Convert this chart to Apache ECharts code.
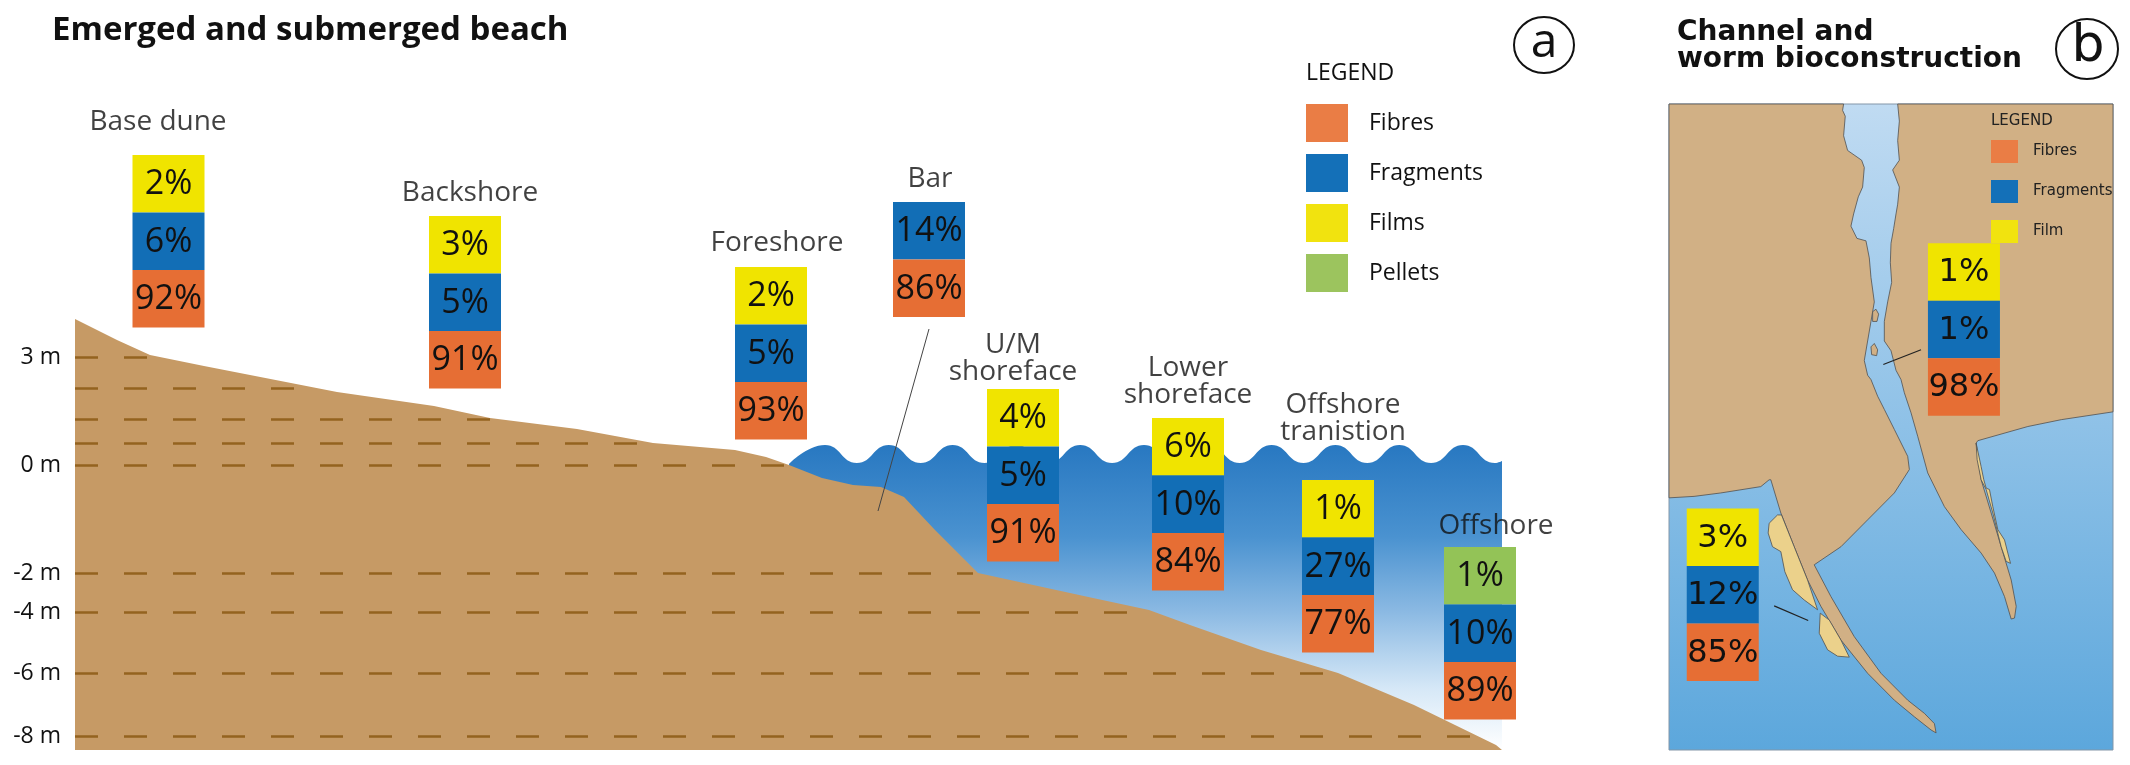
<!DOCTYPE html>
<html>
<head>
<meta charset="utf-8">
<script src="https://cdn.jsdelivr.net/npm/echarts@6/dist/echarts.min.js"></script>
<style>
  html, body { margin: 0; padding: 0; background: #fff; }
  #chart { width: 2130px; height: 765px; }
</style>
</head>
<body>
<div id="chart"></div>
<script>
// (a) emerged and submerged beach: share of each microplastic type per zone (%)
const zones = ['Base dune', 'Backshore', 'Foreshore', 'Bar', 'U/M\nshoreface', 'Lower\nshoreface', 'Offshore\ntranistion', 'Offshore'];
const fibres = [92, 91, 93, 86, 91, 84, 77, 89];
const fragments = [6, 5, 5, 14, 5, 10, 27, 10];
const films = [2, 3, 2, null, 4, 6, 1, null];
const pellets = [null, null, null, null, null, null, null, 1];

// (b) channel and worm bioconstruction (%)
const sites = ['Channel', 'Worm bioconstruction'];
const fibresB = [98, 85];
const fragmentsB = [1, 12];
const filmB = [1, 3];

// depth ticks of the schematic profile
const depthTicks = ['3 m', '0 m', '-2 m', '-4 m', '-6 m', '-8 m'];

// ---- layout of the schematic (drawing units, not data) ----
const depthLevel = [78.6, 57, 35.4, 27.6, 15.4, 2.8];
const extraLevel = [72.4, 66.2, 61.4];
const profile = [[0, 86.2], [8.4, 82], [15, 79], [25.8, 76.8], [52.4, 71.6], [71.8, 68.8], [83, 66.4],
  [100.4, 64.2], [115.6, 61.4], [132, 60], [138.2, 58.6], [142.8, 57], [149.4, 54.4], [155.6, 53],
  [161.2, 52.6], [165.8, 50.6], [172, 44], [180.6, 35.4], [203.6, 30.4], [214.8, 28], [223, 25],
  [237.2, 20], [252.6, 15.4], [267.8, 9], [284.2, 1], [285.4, 0]];
const boxX = [18.7, 78, 139.2, 170.8, 189.6, 222.6, 252.6, 281];
const boxTop = [119, 106.8, 96.6, 109.6, 72.2, 66.4, 54, 40.6];
const labelAt = [[16.6, 125.6], [79, 111.4], [140.4, 101.4], [171, 114.2], [187.6, 78.3], [222.6, 73.7], [253.6, 66.3], [284.2, 44.8]];
const boxXB = [938.5, 216];
const boxTopB = [500, 1043];

// map outlines for panel (b), in map units
const leftLand = [[55,215],[578,215],[575,228],[583,240],[578,280],[590,310],[632,330],[640,345],[635,385],[622,405],[608,440],[600,465],[618,490],[645,495],[655,530],[660,570],[670,620],[660,660],[650,700],[640,740],[650,770],[660,779],[680,813],[700,840],[730,881],[770,936],[775,963],[730,1011],[650,1066],[570,1121],[490,1158],[540,1223],[610,1305],[690,1380],[770,1435],[820,1462],[850,1483],[855,1502],[840,1496],[790,1469],[730,1435],[650,1380],[570,1312],[510,1243],[470,1189],[430,1121],[390,1052],[360,984],[355,984],[330,998],[210,1011],[130,1018],[55,1021]];
const rightLand = [[740,215],[1385,215],[1385,845],[1230,861],[1130,875],[980,904],[975,909],[990,984],[1020,1052],[1050,1121],[1080,1189],[1095,1243],[1090,1267],[1080,1269],[1060,1223],[1030,1175],[990,1134],[930,1086],[880,1039],[830,970],[800,895],[780,847],[760,806],[750,779],[735,760],[720,720],[700,700],[700,660],[710,620],[722,580],[718,540],[720,500],[728,470],[735,440],[740,420],[745,385],[725,350],[745,330],[740,290],[745,250]];
const islands = [[[665,640],[675,635],[683,645],[678,660],[665,660]], [[660,712],[670,705],[680,718],[677,730],[662,728]]];
const wormLeft = [[[380,1056],[355,1073],[352,1093],[365,1121],[390,1131],[402,1172],[425,1209],[460,1230],[500,1250],[470,1189],[430,1121],[392,1056]],
  [[508,1257],[505,1298],[530,1332],[560,1345],[595,1347],[570,1312],[535,1271]]];
const wormRight = [[975,909],[990,957],[998,984],[1005,1001],[1015,1004],[1025,1039],[1040,1086],[1060,1107],[1070,1134],[1078,1155],[1065,1151],[1050,1121],[1025,1052],[1005,1004],[990,984],[978,943]];

const CELL_W = 72, CELL_H = 57.5;
const COLORS = { fibres: '#e66e34', fragments: '#126eb6', films: '#f0e400', pellets: '#93c357' };
const SAND = '#c69a65', LAND = '#d1b085', WORM = '#ebd18b';
const INK = '#111';

// where a depth line meets the sand surface
function shoreAt(level) {
  for (let i = 1; i < profile.length; i++) {
    const [x0, y0] = profile[i - 1], [x1, y1] = profile[i];
    if (y0 >= level && y1 <= level) return x0 + (x1 - x0) * (y0 - level) / (y0 - y1);
  }
  return profile[profile.length - 1][0];
}

// wave crests on the water surface
const wave = [[142.8, 57.2]];
for (let k = 0; 150 + k * 12.76 < 285; k++) {
  wave.push([150 + k * 12.76, 61]);
  if (156.38 + k * 12.76 < 285) wave.push([156.38 + k * 12.76, 57.4]);
}
wave.push([285.4, 57.8]);

// stacked cell slots, counted from the top
function slotsOf(top, mid) {
  return top.map((t, i) => (t == null ? 0 : 1) + (mid[i] == null ? 0 : 1));
}

function cellSeries(name, values, slots, xs, tops, color, gi, font) {
  return {
    type: 'custom', name, xAxisIndex: gi, yAxisIndex: gi, z: 6,
    itemStyle: { color },
    data: values.map((v, i) => (v == null ? null : [xs[i], tops[i], v, slots[i]])).filter(Boolean),
    renderItem(params, api) {
      const p = api.coord([api.value(0), api.value(1)]);
      const y = p[1] + api.value(3) * CELL_H;
      return {
        type: 'group',
        children: [
          { type: 'rect', shape: { x: p[0] - CELL_W / 2, y, width: CELL_W, height: CELL_H }, style: { fill: color } },
          { type: 'text', x: p[0], y: y + CELL_H / 2 + 1,
            style: { text: api.value(2) + '%', fill: INK, font, align: 'center', verticalAlign: 'middle' } }
        ]
      };
    }
  };
}

const topA = films.map((f, i) => f != null ? f : pellets[i]);
const zeroSlots = zones.map(() => 0);
const fragSlots = topA.map(t => (t == null ? 0 : 1));
const fibreSlots = slotsOf(topA, fragments);
const fontA = '34px "Open Sans"';
const fontB = '32px "DejaVu Sans"';

const mapShapes = [
  { pts: leftLand, fill: LAND }, { pts: rightLand, fill: LAND },
  { pts: islands[0], fill: LAND }, { pts: islands[1], fill: LAND },
  { pts: wormLeft[0], fill: WORM }, { pts: wormLeft[1], fill: WORM }, { pts: wormRight, fill: WORM }
];

const chart = echarts.init(document.getElementById('chart'));
chart.setOption({
  backgroundColor: '#fff',
  animation: false,
  title: [
    { text: 'Emerged and submerged beach', left: 52, top: 14, padding: 0,
      textStyle: { fontFamily: 'Open Sans', fontWeight: 'bold', fontSize: 33, color: INK } },
    { text: 'LEGEND', left: 1306, top: 62, padding: 0,
      textStyle: { fontFamily: 'Open Sans', fontWeight: 'normal', fontSize: 23, color: INK } },
    { text: 'Channel and\nworm bioconstruction', left: 1677, top: 19, padding: 0,
      textStyle: { fontFamily: 'DejaVu Sans', fontWeight: 'bold', fontSize: 28, lineHeight: 27, color: INK } },
    { text: 'LEGEND', left: 1991, top: 114, padding: 0,
      textStyle: { fontFamily: 'DejaVu Sans', fontWeight: 'normal', fontSize: 15, color: '#222' } }
  ],
  legend: [
    {
      data: [
        { name: 'Fibres', itemStyle: { color: '#ea7d45' } },
        { name: 'Fragments', itemStyle: { color: '#1470b8' } },
        { name: 'Films', itemStyle: { color: '#f1e30f' } },
        { name: 'Pellets', itemStyle: { color: '#9cc45e' } }
      ],
      orient: 'vertical', left: 1306, top: 104, padding: 0, icon: 'rect',
      itemWidth: 42, itemHeight: 38, itemGap: 12, selectedMode: false,
      textStyle: { fontFamily: 'Open Sans', fontSize: 23, color: INK, padding: [0, 0, 0, 16] }
    },
    {
      data: [
        { name: 'Fibres', itemStyle: { color: '#ea7d45' } },
        { name: 'Fragments', itemStyle: { color: '#1470b8' } },
        { name: 'Film', itemStyle: { color: '#f1e30f' } }
      ],
      orient: 'vertical', left: 1991, top: 140, padding: 0, icon: 'rect',
      itemWidth: 27, itemHeight: 23, itemGap: 17, selectedMode: false,
      textStyle: { fontFamily: 'DejaVu Sans', fontSize: 15, color: '#222', padding: [0, 0, 0, 10] }
    }
  ],
  grid: [
    { left: 75, top: 0, width: 1500, height: 750, outerBoundsMode: 'none' },
    { left: 1669, top: 104, width: 444, height: 646, outerBoundsMode: 'none', show: true,
      borderColor: '#8396a8', borderWidth: 1,
      backgroundColor: new echarts.graphic.LinearGradient(0, 0, 0, 1, [
        { offset: 0, color: '#c0dbf2' }, { offset: 1, color: '#5ca7dc' }
      ]) }
  ],
  xAxis: [
    { type: 'value', gridIndex: 0, min: 0, max: 300, show: false },
    { type: 'value', gridIndex: 1, min: 55, max: 1385, show: false }
  ],
  yAxis: [
    { type: 'value', gridIndex: 0, min: 0, max: 150,
      axisLine: { show: false }, axisTick: { show: false }, splitLine: { show: false },
      axisLabel: {
        customValues: depthLevel, margin: 14, padding: [0, 0, 14, 0],
        fontFamily: 'Open Sans', fontSize: 23, color: INK,
        formatter: v => depthTicks[depthLevel.indexOf(v)]
      } },
    { type: 'value', gridIndex: 1, min: 215, max: 1537, inverse: true, show: false }
  ],
  series: [
    // water with waves
    { type: 'line', name: 'water', data: wave, smooth: true, symbol: 'none', z: 1,
      lineStyle: { width: 0 },
      areaStyle: { origin: 'start', opacity: 1,
        color: new echarts.graphic.LinearGradient(0, 0, 0, 1, [
          { offset: 0, color: '#2878c1' }, { offset: 0.3, color: '#4a92d0' },
          { offset: 0.55, color: '#8cbae3' }, { offset: 0.8, color: '#d6e8f7' }, { offset: 1, color: '#ffffff' }
        ]) } },
    // sand profile with depth lines
    { type: 'line', name: 'sand', data: profile, symbol: 'none', z: 2,
      lineStyle: { width: 0 }, areaStyle: { origin: 'start', color: SAND, opacity: 1 },
      markLine: {
        silent: true, symbol: 'none', label: { show: false },
        lineStyle: { color: '#94631f', width: 2.5, type: [23, 26] },
        data: depthLevel.concat(extraLevel).map(l => [{ coord: [0, l] }, { coord: [shoreAt(l) - 1, l] }])
      } },
    // leader from the bar label
    { type: 'line', name: 'bar leader', data: [[170.8, 84.2], [160.6, 47.8]], symbol: 'none', z: 3,
      lineStyle: { color: '#444', width: 1 } },
    cellSeries('Films', films, zeroSlots, boxX, boxTop, COLORS.films, 0, fontA),
    cellSeries('Pellets', pellets, zeroSlots, boxX, boxTop, COLORS.pellets, 0, fontA),
    cellSeries('Fragments', fragments, fragSlots, boxX, boxTop, COLORS.fragments, 0, fontA),
    cellSeries('Fibres', fibres, fibreSlots, boxX, boxTop, COLORS.fibres, 0, fontA),
    // zone names
    { type: 'scatter', name: 'zones', symbolSize: 0, z: 7,
      data: zones.map((z, i) => ({ name: z, value: labelAt[i] })),
      label: { show: true, position: 'inside', formatter: '{b}', fontFamily: 'Open Sans',
        fontSize: 28, lineHeight: 27, color: INK } },
    // map of panel (b)
    { type: 'custom', name: 'map', xAxisIndex: 1, yAxisIndex: 1, z: 2,
      data: mapShapes.map((s, i) => [i]),
      renderItem(params, api) {
        const s = mapShapes[params.dataIndex];
        return { type: 'polygon', shape: { points: s.pts.map(p => api.coord(p)) },
          style: { fill: s.fill, stroke: '#505050', lineWidth: 0.8 } };
      } },
    { type: 'line', name: 'leader channel', xAxisIndex: 1, yAxisIndex: 1, data: [[810, 718], [697, 748]],
      symbol: 'none', z: 4, lineStyle: { color: '#222', width: 1.2 } },
    { type: 'line', name: 'leader worm', xAxisIndex: 1, yAxisIndex: 1, data: [[370, 1242], [472, 1272]],
      symbol: 'none', z: 4, lineStyle: { color: '#222', width: 1.2 } },
    cellSeries('Film', filmB, [0, 0], boxXB, boxTopB, COLORS.films, 1, fontB),
    cellSeries('Fragments', fragmentsB, [1, 1], boxXB, boxTopB, COLORS.fragments, 1, fontB),
    cellSeries('Fibres', fibresB, [2, 2], boxXB, boxTopB, COLORS.fibres, 1, fontB)
  ],
  graphic: [
    { type: 'ellipse', shape: { cx: 1544, cy: 45, rx: 30, ry: 28 }, style: { fill: 'none', stroke: '#111', lineWidth: 2 } },
    { type: 'text', x: 1544, y: 43, style: { text: 'a', font: '48px "Open Sans"', fill: '#111', align: 'center', verticalAlign: 'middle' } },
    { type: 'ellipse', shape: { cx: 2087, cy: 49, rx: 31, ry: 30 }, style: { fill: 'none', stroke: '#111', lineWidth: 2 } },
    { type: 'text', x: 2088, y: 47, style: { text: 'b', font: '52px "DejaVu Sans"', fill: '#111', align: 'center', verticalAlign: 'middle' } }
  ]
});
</script>
</body>
</html>
